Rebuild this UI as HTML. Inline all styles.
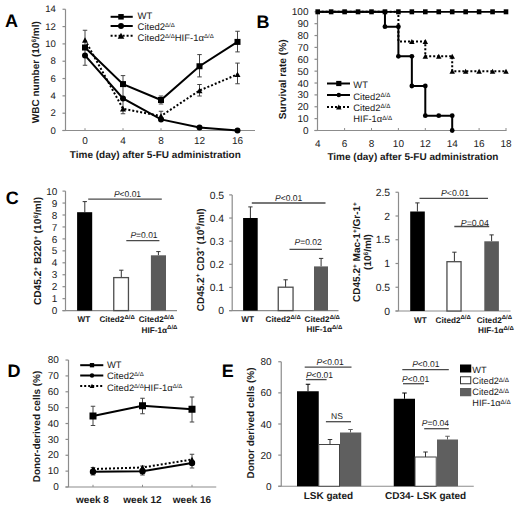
<!DOCTYPE html><html><head><meta charset="utf-8"><style>html,body{margin:0;padding:0;background:#fff;}svg{display:block;}text{font-family:"Liberation Sans",sans-serif;text-rendering:geometricPrecision;}</style></head><body>
<svg width="520" height="507" viewBox="0 0 520 507">
<rect width="520" height="507" fill="#fff"/>
<text x="5.0" y="26.6" font-size="18" text-anchor="start" font-weight="bold" fill="#000" >A</text>
<line x1="65.5" y1="9.259999999999991" x2="65.5" y2="130.5" stroke="#8c8c8c" stroke-width="1.2" />
<line x1="62.5" y1="130.5" x2="255" y2="130.5" stroke="#8c8c8c" stroke-width="1.2" />
<line x1="62.5" y1="130.5" x2="65.5" y2="130.5" stroke="#8c8c8c" stroke-width="1.2" />
<text x="55.8" y="133.6" font-size="9.6" text-anchor="end" fill="#1a1a1a" >0</text>
<line x1="62.5" y1="113.18" x2="65.5" y2="113.18" stroke="#8c8c8c" stroke-width="1.2" />
<text x="55.8" y="116.28" font-size="9.6" text-anchor="end" fill="#1a1a1a" >2</text>
<line x1="62.5" y1="95.86" x2="65.5" y2="95.86" stroke="#8c8c8c" stroke-width="1.2" />
<text x="55.8" y="98.96" font-size="9.6" text-anchor="end" fill="#1a1a1a" >4</text>
<line x1="62.5" y1="78.53999999999999" x2="65.5" y2="78.53999999999999" stroke="#8c8c8c" stroke-width="1.2" />
<text x="55.8" y="81.63999999999999" font-size="9.6" text-anchor="end" fill="#1a1a1a" >6</text>
<line x1="62.5" y1="61.22" x2="65.5" y2="61.22" stroke="#8c8c8c" stroke-width="1.2" />
<text x="55.8" y="64.32" font-size="9.6" text-anchor="end" fill="#1a1a1a" >8</text>
<line x1="62.5" y1="43.900000000000006" x2="65.5" y2="43.900000000000006" stroke="#8c8c8c" stroke-width="1.2" />
<text x="55.8" y="47.00000000000001" font-size="9.6" text-anchor="end" fill="#1a1a1a" >10</text>
<line x1="62.5" y1="26.58" x2="65.5" y2="26.58" stroke="#8c8c8c" stroke-width="1.2" />
<text x="55.8" y="29.68" font-size="9.6" text-anchor="end" fill="#1a1a1a" >12</text>
<line x1="62.5" y1="9.259999999999991" x2="65.5" y2="9.259999999999991" stroke="#8c8c8c" stroke-width="1.2" />
<text x="55.8" y="12.35999999999999" font-size="9.6" text-anchor="end" fill="#1a1a1a" >14</text>
<line x1="85" y1="128.2" x2="85" y2="130.5" stroke="#8c8c8c" stroke-width="1" />
<text x="85" y="143.6" font-size="10" text-anchor="middle" fill="#1a1a1a" >0</text>
<line x1="123" y1="128.2" x2="123" y2="130.5" stroke="#8c8c8c" stroke-width="1" />
<text x="123" y="143.6" font-size="10" text-anchor="middle" fill="#1a1a1a" >4</text>
<line x1="161" y1="128.2" x2="161" y2="130.5" stroke="#8c8c8c" stroke-width="1" />
<text x="161" y="143.6" font-size="10" text-anchor="middle" fill="#1a1a1a" >8</text>
<line x1="199.5" y1="128.2" x2="199.5" y2="130.5" stroke="#8c8c8c" stroke-width="1" />
<text x="199.5" y="143.6" font-size="10" text-anchor="middle" fill="#1a1a1a" >12</text>
<line x1="237.5" y1="128.2" x2="237.5" y2="130.5" stroke="#8c8c8c" stroke-width="1" />
<text x="237.5" y="143.6" font-size="10" text-anchor="middle" fill="#1a1a1a" >16</text>
<text x="155.3" y="158.2" font-size="10" text-anchor="middle" font-weight="bold" fill="#1a1a1a" >Time (day) after 5-FU administration</text>
<text x="36" y="72.2" font-size="10" font-weight="bold" text-anchor="middle" fill="#1a1a1a" transform="rotate(-90 36 72.2)" dy="3.5">WBC number (10<tspan font-size="6.5" dy="-3.5">6</tspan><tspan dy="3.5">/ml)</tspan></text>
<line x1="85" y1="30.25" x2="85" y2="65.25" stroke="#444" stroke-width="1" />
<line x1="82.75" y1="30.25" x2="87.25" y2="30.25" stroke="#444" stroke-width="1" />
<line x1="82.75" y1="65.25" x2="87.25" y2="65.25" stroke="#444" stroke-width="1" />
<line x1="123" y1="75.6" x2="123" y2="113.75" stroke="#444" stroke-width="1" />
<line x1="120.75" y1="75.6" x2="125.25" y2="75.6" stroke="#444" stroke-width="1" />
<line x1="120.75" y1="113.75" x2="125.25" y2="113.75" stroke="#444" stroke-width="1" />
<line x1="161" y1="96" x2="161" y2="104" stroke="#444" stroke-width="1" />
<line x1="158.75" y1="96" x2="163.25" y2="96" stroke="#444" stroke-width="1" />
<line x1="158.75" y1="104" x2="163.25" y2="104" stroke="#444" stroke-width="1" />
<line x1="161" y1="111.25" x2="161" y2="119" stroke="#444" stroke-width="1" />
<line x1="158.75" y1="111.25" x2="163.25" y2="111.25" stroke="#444" stroke-width="1" />
<line x1="158.75" y1="119" x2="163.25" y2="119" stroke="#444" stroke-width="1" />
<line x1="199.5" y1="54.6" x2="199.5" y2="76.9" stroke="#444" stroke-width="1" />
<line x1="197.25" y1="54.6" x2="201.75" y2="54.6" stroke="#444" stroke-width="1" />
<line x1="197.25" y1="76.9" x2="201.75" y2="76.9" stroke="#444" stroke-width="1" />
<line x1="199.5" y1="84.5" x2="199.5" y2="96" stroke="#444" stroke-width="1" />
<line x1="197.25" y1="84.5" x2="201.75" y2="84.5" stroke="#444" stroke-width="1" />
<line x1="197.25" y1="96" x2="201.75" y2="96" stroke="#444" stroke-width="1" />
<line x1="237.5" y1="31.25" x2="237.5" y2="51.9" stroke="#444" stroke-width="1" />
<line x1="235.25" y1="31.25" x2="239.75" y2="31.25" stroke="#444" stroke-width="1" />
<line x1="235.25" y1="51.9" x2="239.75" y2="51.9" stroke="#444" stroke-width="1" />
<line x1="237.5" y1="63.1" x2="237.5" y2="83.75" stroke="#444" stroke-width="1" />
<line x1="235.25" y1="63.1" x2="239.75" y2="63.1" stroke="#444" stroke-width="1" />
<line x1="235.25" y1="83.75" x2="239.75" y2="83.75" stroke="#444" stroke-width="1" />
<polyline points="85,40 123,108.75 161,116 199.5,90.5 237.5,74.4" fill="none" stroke="#000" stroke-width="2" stroke-dasharray="2 2" stroke-linejoin="miter"/>
<polyline points="85,47.5 123,84.1 161,100 199.5,66.25 237.5,41.9" fill="none" stroke="#000" stroke-width="2" stroke-linejoin="miter"/>
<polyline points="85,55.4 123,98.5 161,119.4 199.5,127.5 237.5,130.5" fill="none" stroke="#000" stroke-width="2" stroke-linejoin="miter"/>
<rect x="82.0" y="44.5" width="6" height="6" fill="#000" stroke="none" stroke-width="0"/>
<rect x="120.0" y="81.1" width="6" height="6" fill="#000" stroke="none" stroke-width="0"/>
<rect x="158.0" y="97.0" width="6" height="6" fill="#000" stroke="none" stroke-width="0"/>
<rect x="196.5" y="63.25" width="6" height="6" fill="#000" stroke="none" stroke-width="0"/>
<rect x="234.5" y="38.9" width="6" height="6" fill="#000" stroke="none" stroke-width="0"/>
<circle cx="85" cy="55.4" r="3" fill="#000"/>
<circle cx="123" cy="98.5" r="3" fill="#000"/>
<circle cx="161" cy="119.4" r="3" fill="#000"/>
<circle cx="199.5" cy="127.5" r="3" fill="#000"/>
<circle cx="237.5" cy="130.5" r="3" fill="#000"/>
<polygon points="85,37.3 88.0,42.7 82.0,42.7" fill="#000"/>
<polygon points="123,106.05 126.0,111.45 120.0,111.45" fill="#000"/>
<polygon points="161,113.3 164.0,118.7 158.0,118.7" fill="#000"/>
<polygon points="199.5,87.8 202.5,93.2 196.5,93.2" fill="#000"/>
<polygon points="237.5,71.7 240.5,77.10000000000001 234.5,77.10000000000001" fill="#000"/>
<line x1="110.6" y1="16.8" x2="132.75" y2="16.8" stroke="#000" stroke-width="2" />
<rect x="118.25" y="14.05" width="5.5" height="5.5" fill="#000" stroke="none" stroke-width="0"/>
<line x1="110.6" y1="26" x2="132.75" y2="26" stroke="#000" stroke-width="2" />
<circle cx="121" cy="26" r="3" fill="#000"/>
<line x1="110.6" y1="35.8" x2="132.75" y2="35.8" stroke="#000" stroke-width="2" stroke-dasharray="2 2"/>
<polygon points="121,32.83 124.3,38.769999999999996 117.7,38.769999999999996" fill="#000"/>
<text x="137.6" y="18.6" font-size="9.5" text-anchor="start" fill="#1a1a1a" >WT</text>
<text x="137.6" y="30" font-size="9.5" text-anchor="start" fill="#1a1a1a" >Cited2<tspan font-size="6" dy="-2.8">Δ/Δ</tspan></text>
<text x="137.6" y="40.5" font-size="9.5" text-anchor="start" fill="#1a1a1a" >Cited2<tspan font-size="6" dy="-2.8">Δ/Δ</tspan><tspan dy="2.8">HIF-1α</tspan><tspan font-size="6" dy="-2.8">Δ/Δ</tspan></text>
<text x="256.4" y="28.0" font-size="18" text-anchor="start" font-weight="bold" fill="#000" >B</text>
<line x1="317.5" y1="11.799999999999997" x2="317.5" y2="130.5" stroke="#8c8c8c" stroke-width="1.2" />
<line x1="314.5" y1="130.5" x2="506.5" y2="130.5" stroke="#8c8c8c" stroke-width="1.2" />
<line x1="314.5" y1="130.5" x2="317.5" y2="130.5" stroke="#8c8c8c" stroke-width="1.2" />
<text x="308.5" y="134.1" font-size="10" text-anchor="end" fill="#1a1a1a" >0</text>
<line x1="314.5" y1="118.63" x2="317.5" y2="118.63" stroke="#8c8c8c" stroke-width="1.2" />
<text x="308.5" y="122.22999999999999" font-size="10" text-anchor="end" fill="#1a1a1a" >10</text>
<line x1="314.5" y1="106.75999999999999" x2="317.5" y2="106.75999999999999" stroke="#8c8c8c" stroke-width="1.2" />
<text x="308.5" y="110.35999999999999" font-size="10" text-anchor="end" fill="#1a1a1a" >20</text>
<line x1="314.5" y1="94.89" x2="317.5" y2="94.89" stroke="#8c8c8c" stroke-width="1.2" />
<text x="308.5" y="98.49" font-size="10" text-anchor="end" fill="#1a1a1a" >30</text>
<line x1="314.5" y1="83.02" x2="317.5" y2="83.02" stroke="#8c8c8c" stroke-width="1.2" />
<text x="308.5" y="86.61999999999999" font-size="10" text-anchor="end" fill="#1a1a1a" >40</text>
<line x1="314.5" y1="71.15" x2="317.5" y2="71.15" stroke="#8c8c8c" stroke-width="1.2" />
<text x="308.5" y="74.75" font-size="10" text-anchor="end" fill="#1a1a1a" >50</text>
<line x1="314.5" y1="59.28" x2="317.5" y2="59.28" stroke="#8c8c8c" stroke-width="1.2" />
<text x="308.5" y="62.88" font-size="10" text-anchor="end" fill="#1a1a1a" >60</text>
<line x1="314.5" y1="47.41" x2="317.5" y2="47.41" stroke="#8c8c8c" stroke-width="1.2" />
<text x="308.5" y="51.01" font-size="10" text-anchor="end" fill="#1a1a1a" >70</text>
<line x1="314.5" y1="35.53999999999999" x2="317.5" y2="35.53999999999999" stroke="#8c8c8c" stroke-width="1.2" />
<text x="308.5" y="39.13999999999999" font-size="10" text-anchor="end" fill="#1a1a1a" >80</text>
<line x1="314.5" y1="23.67" x2="317.5" y2="23.67" stroke="#8c8c8c" stroke-width="1.2" />
<text x="308.5" y="27.270000000000003" font-size="10" text-anchor="end" fill="#1a1a1a" >90</text>
<line x1="314.5" y1="11.799999999999997" x2="317.5" y2="11.799999999999997" stroke="#8c8c8c" stroke-width="1.2" />
<text x="308.5" y="15.399999999999997" font-size="10" text-anchor="end" fill="#1a1a1a" >100</text>
<text x="317.7" y="146.6" font-size="10" text-anchor="middle" fill="#1a1a1a" >4</text>
<line x1="344.59999999999997" y1="128" x2="344.59999999999997" y2="130.5" stroke="#8c8c8c" stroke-width="1" />
<text x="344.59999999999997" y="146.6" font-size="10" text-anchor="middle" fill="#1a1a1a" >6</text>
<line x1="371.5" y1="128" x2="371.5" y2="130.5" stroke="#8c8c8c" stroke-width="1" />
<text x="371.5" y="146.6" font-size="10" text-anchor="middle" fill="#1a1a1a" >8</text>
<line x1="398.4" y1="128" x2="398.4" y2="130.5" stroke="#8c8c8c" stroke-width="1" />
<text x="398.4" y="146.6" font-size="10" text-anchor="middle" fill="#1a1a1a" >10</text>
<line x1="425.29999999999995" y1="128" x2="425.29999999999995" y2="130.5" stroke="#8c8c8c" stroke-width="1" />
<text x="425.29999999999995" y="146.6" font-size="10" text-anchor="middle" fill="#1a1a1a" >12</text>
<line x1="452.2" y1="128" x2="452.2" y2="130.5" stroke="#8c8c8c" stroke-width="1" />
<text x="452.2" y="146.6" font-size="10" text-anchor="middle" fill="#1a1a1a" >14</text>
<line x1="479.09999999999997" y1="128" x2="479.09999999999997" y2="130.5" stroke="#8c8c8c" stroke-width="1" />
<text x="479.09999999999997" y="146.6" font-size="10" text-anchor="middle" fill="#1a1a1a" >16</text>
<line x1="506.0" y1="128" x2="506.0" y2="130.5" stroke="#8c8c8c" stroke-width="1" />
<text x="506.0" y="146.6" font-size="10" text-anchor="middle" fill="#1a1a1a" >18</text>
<text x="412.9" y="159.8" font-size="10" text-anchor="middle" font-weight="bold" fill="#1a1a1a" >Time (day) after 5-FU administration</text>
<text x="283" y="79.3" font-size="10.2" font-weight="bold" text-anchor="middle" fill="#1a1a1a" transform="rotate(-90 283 79.3)" dy="3.5">Survival rate (%)</text>
<polyline points="317.7,11.799999999999997 398.4,11.799999999999997 398.4,41.474999999999994 425.29999999999995,41.474999999999994 425.29999999999995,56.3125 452.2,56.3125 452.2,71.15 506.0,71.15" fill="none" stroke="#000" stroke-width="2" stroke-dasharray="2 2" stroke-linejoin="miter"/>
<polyline points="317.7,11.799999999999997 384.95,11.799999999999997 384.95,26.63749999999999 398.4,26.63749999999999 398.4,56.3125 411.84999999999997,56.3125 411.84999999999997,85.9875 425.29999999999995,85.9875 425.29999999999995,115.6625 452.2,115.6625 452.2,130.5" fill="none" stroke="#000" stroke-width="2" stroke-linejoin="miter"/>
<polyline points="317.7,11.799999999999997 506.0,11.799999999999997" fill="none" stroke="#000" stroke-width="1.7" stroke-linejoin="miter"/>
<rect x="315.4" y="9.299999999999997" width="4.6" height="5" fill="#000" stroke="none" stroke-width="0"/>
<rect x="328.84999999999997" y="9.299999999999997" width="4.6" height="5" fill="#000" stroke="none" stroke-width="0"/>
<rect x="342.29999999999995" y="9.299999999999997" width="4.6" height="5" fill="#000" stroke="none" stroke-width="0"/>
<rect x="355.74999999999994" y="9.299999999999997" width="4.6" height="5" fill="#000" stroke="none" stroke-width="0"/>
<rect x="369.2" y="9.299999999999997" width="4.6" height="5" fill="#000" stroke="none" stroke-width="0"/>
<rect x="382.65" y="9.299999999999997" width="4.6" height="5" fill="#000" stroke="none" stroke-width="0"/>
<rect x="396.09999999999997" y="9.299999999999997" width="4.6" height="5" fill="#000" stroke="none" stroke-width="0"/>
<rect x="409.54999999999995" y="9.299999999999997" width="4.6" height="5" fill="#000" stroke="none" stroke-width="0"/>
<rect x="422.99999999999994" y="9.299999999999997" width="4.6" height="5" fill="#000" stroke="none" stroke-width="0"/>
<rect x="436.45" y="9.299999999999997" width="4.6" height="5" fill="#000" stroke="none" stroke-width="0"/>
<rect x="449.9" y="9.299999999999997" width="4.6" height="5" fill="#000" stroke="none" stroke-width="0"/>
<rect x="463.34999999999997" y="9.299999999999997" width="4.6" height="5" fill="#000" stroke="none" stroke-width="0"/>
<rect x="476.79999999999995" y="9.299999999999997" width="4.6" height="5" fill="#000" stroke="none" stroke-width="0"/>
<rect x="490.24999999999994" y="9.299999999999997" width="4.6" height="5" fill="#000" stroke="none" stroke-width="0"/>
<rect x="503.7" y="9.299999999999997" width="4.6" height="5" fill="#000" stroke="none" stroke-width="0"/>
<circle cx="384.95" cy="26.63749999999999" r="2.4" fill="#000"/>
<circle cx="398.4" cy="26.63749999999999" r="2.4" fill="#000"/>
<circle cx="398.4" cy="56.3125" r="2.4" fill="#000"/>
<circle cx="411.84999999999997" cy="56.3125" r="2.4" fill="#000"/>
<circle cx="411.84999999999997" cy="85.9875" r="2.4" fill="#000"/>
<circle cx="425.29999999999995" cy="85.9875" r="2.4" fill="#000"/>
<circle cx="425.29999999999995" cy="115.6625" r="2.4" fill="#000"/>
<circle cx="438.75" cy="115.6625" r="2.4" fill="#000"/>
<circle cx="452.2" cy="115.6625" r="2.4" fill="#000"/>
<circle cx="452.2" cy="130.5" r="2.4" fill="#000"/>
<polygon points="411.84999999999997,38.99999999999999 414.59999999999997,43.949999999999996 409.09999999999997,43.949999999999996" fill="#000"/>
<polygon points="425.29999999999995,38.99999999999999 428.04999999999995,43.949999999999996 422.54999999999995,43.949999999999996" fill="#000"/>
<polygon points="425.29999999999995,53.8375 428.04999999999995,58.7875 422.54999999999995,58.7875" fill="#000"/>
<polygon points="438.75,53.8375 441.5,58.7875 436.0,58.7875" fill="#000"/>
<polygon points="452.2,53.8375 454.95,58.7875 449.45,58.7875" fill="#000"/>
<polygon points="452.2,68.67500000000001 454.95,73.625 449.45,73.625" fill="#000"/>
<polygon points="465.65,68.67500000000001 468.4,73.625 462.9,73.625" fill="#000"/>
<polygon points="479.09999999999997,68.67500000000001 481.84999999999997,73.625 476.34999999999997,73.625" fill="#000"/>
<polygon points="492.54999999999995,68.67500000000001 495.29999999999995,73.625 489.79999999999995,73.625" fill="#000"/>
<polygon points="506.0,68.67500000000001 508.75,73.625 503.25,73.625" fill="#000"/>
<line x1="327" y1="83.5" x2="350" y2="83.5" stroke="#000" stroke-width="2" />
<rect x="336.2" y="80.9" width="5.2" height="5.2" fill="#000" stroke="none" stroke-width="0"/>
<line x1="327" y1="95" x2="350" y2="95" stroke="#000" stroke-width="2" />
<circle cx="338.8" cy="95" r="2.2" fill="#000"/>
<line x1="327" y1="107" x2="350" y2="107" stroke="#000" stroke-width="2" stroke-dasharray="2 2"/>
<polygon points="338.8,104.525 341.55,109.475 336.05,109.475" fill="#000"/>
<text x="353.3" y="88.3" font-size="9.4" text-anchor="start" fill="#1a1a1a" >WT</text>
<text x="353.3" y="99.5" font-size="9.4" text-anchor="start" fill="#1a1a1a" >Cited2<tspan font-size="6.2" dy="-2.6">Δ/Δ</tspan></text>
<text x="353.3" y="110.8" font-size="9.4" text-anchor="start" fill="#1a1a1a" >Cited2<tspan font-size="6.2" dy="-2.6">Δ/Δ</tspan></text>
<text x="353.3" y="122.3" font-size="9.4" text-anchor="start" fill="#1a1a1a" >HIF-1α<tspan font-size="6.2" dy="-2.6">Δ/Δ</tspan></text>
<text x="5.8" y="203.7" font-size="18" text-anchor="start" font-weight="bold" fill="#000" >C</text>
<line x1="65.5" y1="191.10000000000002" x2="65.5" y2="310.6" stroke="#8c8c8c" stroke-width="1.2" />
<line x1="62.5" y1="310.6" x2="177" y2="310.6" stroke="#8c8c8c" stroke-width="1.2" />
<line x1="62.5" y1="310.6" x2="65.5" y2="310.6" stroke="#8c8c8c" stroke-width="1.2" />
<text x="57.4" y="314.20000000000005" font-size="10" text-anchor="end" fill="#1a1a1a" >0</text>
<line x1="62.5" y1="298.65000000000003" x2="65.5" y2="298.65000000000003" stroke="#8c8c8c" stroke-width="1.2" />
<text x="57.4" y="302.25000000000006" font-size="10" text-anchor="end" fill="#1a1a1a" >1</text>
<line x1="62.5" y1="286.70000000000005" x2="65.5" y2="286.70000000000005" stroke="#8c8c8c" stroke-width="1.2" />
<text x="57.4" y="290.30000000000007" font-size="10" text-anchor="end" fill="#1a1a1a" >2</text>
<line x1="62.5" y1="274.75" x2="65.5" y2="274.75" stroke="#8c8c8c" stroke-width="1.2" />
<text x="57.4" y="278.35" font-size="10" text-anchor="end" fill="#1a1a1a" >3</text>
<line x1="62.5" y1="262.8" x2="65.5" y2="262.8" stroke="#8c8c8c" stroke-width="1.2" />
<text x="57.4" y="266.40000000000003" font-size="10" text-anchor="end" fill="#1a1a1a" >4</text>
<line x1="62.5" y1="250.85000000000002" x2="65.5" y2="250.85000000000002" stroke="#8c8c8c" stroke-width="1.2" />
<text x="57.4" y="254.45000000000002" font-size="10" text-anchor="end" fill="#1a1a1a" >5</text>
<line x1="62.5" y1="238.90000000000003" x2="65.5" y2="238.90000000000003" stroke="#8c8c8c" stroke-width="1.2" />
<text x="57.4" y="242.50000000000003" font-size="10" text-anchor="end" fill="#1a1a1a" >6</text>
<line x1="62.5" y1="226.95000000000005" x2="65.5" y2="226.95000000000005" stroke="#8c8c8c" stroke-width="1.2" />
<text x="57.4" y="230.55000000000004" font-size="10" text-anchor="end" fill="#1a1a1a" >7</text>
<line x1="62.5" y1="215.00000000000003" x2="65.5" y2="215.00000000000003" stroke="#8c8c8c" stroke-width="1.2" />
<text x="57.4" y="218.60000000000002" font-size="10" text-anchor="end" fill="#1a1a1a" >8</text>
<line x1="62.5" y1="203.05" x2="65.5" y2="203.05" stroke="#8c8c8c" stroke-width="1.2" />
<text x="57.4" y="206.65" font-size="10" text-anchor="end" fill="#1a1a1a" >9</text>
<line x1="62.5" y1="191.10000000000002" x2="65.5" y2="191.10000000000002" stroke="#8c8c8c" stroke-width="1.2" />
<text x="57.4" y="194.70000000000002" font-size="10" text-anchor="end" fill="#1a1a1a" >10</text>
<line x1="84.8" y1="201.6" x2="84.8" y2="212.2" stroke="#333" stroke-width="1" />
<line x1="82.64999999999999" y1="201.6" x2="86.95" y2="201.6" stroke="#333" stroke-width="1" />
<rect x="77.1" y="212.2" width="15.100000000000009" height="98.40000000000003" fill="#000" stroke="none" stroke-width="0"/>
<line x1="121.3" y1="270.2" x2="121.3" y2="277.6" stroke="#333" stroke-width="1" />
<line x1="119.14999999999999" y1="270.2" x2="123.45" y2="270.2" stroke="#333" stroke-width="1" />
<rect x="113.75" y="277.6" width="14.7" height="33.0" fill="#fff" stroke="#4d4d4d" stroke-width="1.3"/>
<line x1="158.4" y1="251.6" x2="158.4" y2="255.3" stroke="#333" stroke-width="1" />
<line x1="156.25" y1="251.6" x2="160.55" y2="251.6" stroke="#333" stroke-width="1" />
<rect x="150.9" y="255.3" width="15.099999999999994" height="55.30000000000001" fill="#5a5a5a" stroke="none" stroke-width="0"/>
<line x1="88.2" y1="199.2" x2="161.8" y2="199.2" stroke="#4a4a4a" stroke-width="1.3" />
<text x="113.91" y="196.8" font-size="8.5" fill="#1a1a1a"><tspan font-style="italic">P</tspan>&lt;0.01</text>
<line x1="126.3" y1="240.6" x2="159.4" y2="240.6" stroke="#4a4a4a" stroke-width="1.3" />
<text x="130.41" y="238" font-size="8.5" fill="#1a1a1a"><tspan font-style="italic">P</tspan>=0.01</text>
<text x="37.6" y="251" font-size="10.15" font-weight="bold" text-anchor="middle" fill="#1a1a1a" transform="rotate(-90 37.6 251)" dy="3.5">CD45.2<tspan font-size="6.5" dy="-3.5">+</tspan><tspan dy="3.5"> B220</tspan><tspan font-size="6.5" dy="-3.5">+</tspan><tspan dy="3.5"> (10</tspan><tspan font-size="6.5" dy="-3.5">6</tspan><tspan dy="3.5">/ml)</tspan></text>
<text x="77.6" y="322.3" font-size="8.2" text-anchor="start" font-weight="bold" fill="#1a1a1a" >WT</text>
<text x="99.39999999999999" y="322.3" font-size="8.2" text-anchor="start" font-weight="bold" fill="#1a1a1a" >Cited2<tspan font-size="6" dy="-3.2">Δ/Δ</tspan></text>
<text x="138.7" y="322.3" font-size="8.2" text-anchor="start" font-weight="bold" fill="#1a1a1a" >Cited2<tspan font-size="6" dy="-3.2">Δ/Δ</tspan></text>
<text x="141.6" y="332.5" font-size="8.2" text-anchor="start" font-weight="bold" fill="#1a1a1a" >HIF-1α<tspan font-size="6" dy="-3.2">Δ/Δ</tspan></text>
<line x1="232.2" y1="194.90000000000003" x2="232.2" y2="310.6" stroke="#8c8c8c" stroke-width="1.2" />
<line x1="229.2" y1="310.6" x2="338.5" y2="310.6" stroke="#8c8c8c" stroke-width="1.2" />
<line x1="229.2" y1="310.6" x2="232.2" y2="310.6" stroke="#8c8c8c" stroke-width="1.2" />
<text x="224.1" y="314.34400000000005" font-size="10.4" text-anchor="end" fill="#1a1a1a" >0</text>
<line x1="229.2" y1="287.46000000000004" x2="232.2" y2="287.46000000000004" stroke="#8c8c8c" stroke-width="1.2" />
<text x="224.1" y="291.20400000000006" font-size="10.4" text-anchor="end" fill="#1a1a1a" >0.1</text>
<line x1="229.2" y1="264.32000000000005" x2="232.2" y2="264.32000000000005" stroke="#8c8c8c" stroke-width="1.2" />
<text x="224.1" y="268.0640000000001" font-size="10.4" text-anchor="end" fill="#1a1a1a" >0.2</text>
<line x1="229.2" y1="241.18" x2="232.2" y2="241.18" stroke="#8c8c8c" stroke-width="1.2" />
<text x="224.1" y="244.924" font-size="10.4" text-anchor="end" fill="#1a1a1a" >0.3</text>
<line x1="229.2" y1="218.04000000000002" x2="232.2" y2="218.04000000000002" stroke="#8c8c8c" stroke-width="1.2" />
<text x="224.1" y="221.78400000000002" font-size="10.4" text-anchor="end" fill="#1a1a1a" >0.4</text>
<line x1="229.2" y1="194.90000000000003" x2="232.2" y2="194.90000000000003" stroke="#8c8c8c" stroke-width="1.2" />
<text x="224.1" y="198.64400000000003" font-size="10.4" text-anchor="end" fill="#1a1a1a" >0.5</text>
<line x1="250.4" y1="206.9" x2="250.4" y2="218" stroke="#333" stroke-width="1" />
<line x1="248.25" y1="206.9" x2="252.55" y2="206.9" stroke="#333" stroke-width="1" />
<rect x="243.1" y="218" width="14.599999999999994" height="92.60000000000002" fill="#000" stroke="none" stroke-width="0"/>
<line x1="285.6" y1="279.8" x2="285.6" y2="287.2" stroke="#333" stroke-width="1" />
<line x1="283.45000000000005" y1="279.8" x2="287.75" y2="279.8" stroke="#333" stroke-width="1" />
<rect x="278.25" y="287.2" width="14.799999999999965" height="23.400000000000034" fill="#fff" stroke="#4d4d4d" stroke-width="1.3"/>
<line x1="321.1" y1="258.4" x2="321.1" y2="266.4" stroke="#333" stroke-width="1" />
<line x1="318.95000000000005" y1="258.4" x2="323.25" y2="258.4" stroke="#333" stroke-width="1" />
<rect x="314.0" y="266.4" width="14.0" height="44.200000000000045" fill="#5a5a5a" stroke="none" stroke-width="0"/>
<line x1="251.8" y1="203" x2="325.5" y2="203" stroke="#4a4a4a" stroke-width="1.3" />
<text x="275.10" y="200.6" font-size="8.5" fill="#1a1a1a"><tspan font-style="italic">P</tspan>&lt;0.01</text>
<line x1="289.5" y1="249.3" x2="321.9" y2="249.3" stroke="#4a4a4a" stroke-width="1.3" />
<text x="294.50" y="245" font-size="8.5" fill="#1a1a1a"><tspan font-style="italic">P</tspan>=0.02</text>
<text x="200.5" y="259.8" font-size="10" font-weight="bold" text-anchor="middle" fill="#1a1a1a" transform="rotate(-90 200.5 259.8)" dy="3.5">CD45.2<tspan font-size="6.5" dy="-3.5">+</tspan><tspan dy="3.5"> CD3</tspan><tspan font-size="6.5" dy="-3.5">+</tspan><tspan dy="3.5"> (10</tspan><tspan font-size="6.5" dy="-3.5">6</tspan><tspan dy="3.5">/ml)</tspan></text>
<text x="241.3" y="321.7" font-size="8.2" text-anchor="start" font-weight="bold" fill="#1a1a1a" >WT</text>
<text x="265.5" y="321.7" font-size="8.2" text-anchor="start" font-weight="bold" fill="#1a1a1a" >Cited2<tspan font-size="6" dy="-3.2">Δ/Δ</tspan></text>
<text x="304.6" y="321.7" font-size="8.2" text-anchor="start" font-weight="bold" fill="#1a1a1a" >Cited2<tspan font-size="6" dy="-3.2">Δ/Δ</tspan></text>
<text x="306.5" y="332.1" font-size="8.2" text-anchor="start" font-weight="bold" fill="#1a1a1a" >HIF-1α<tspan font-size="6" dy="-3.2">Δ/Δ</tspan></text>
<line x1="398.5" y1="192.25" x2="398.5" y2="311.0" stroke="#8c8c8c" stroke-width="1.2" />
<line x1="395.5" y1="311.0" x2="510.5" y2="311.0" stroke="#8c8c8c" stroke-width="1.2" />
<line x1="395.5" y1="311.0" x2="398.5" y2="311.0" stroke="#8c8c8c" stroke-width="1.2" />
<text x="390.09999999999997" y="314.744" font-size="10.4" text-anchor="end" fill="#1a1a1a" >0</text>
<line x1="395.5" y1="287.25" x2="398.5" y2="287.25" stroke="#8c8c8c" stroke-width="1.2" />
<text x="390.09999999999997" y="290.994" font-size="10.4" text-anchor="end" fill="#1a1a1a" >0.5</text>
<line x1="395.5" y1="263.5" x2="398.5" y2="263.5" stroke="#8c8c8c" stroke-width="1.2" />
<text x="390.09999999999997" y="267.244" font-size="10.4" text-anchor="end" fill="#1a1a1a" >1</text>
<line x1="395.5" y1="239.75" x2="398.5" y2="239.75" stroke="#8c8c8c" stroke-width="1.2" />
<text x="390.09999999999997" y="243.494" font-size="10.4" text-anchor="end" fill="#1a1a1a" >1.5</text>
<line x1="395.5" y1="216.0" x2="398.5" y2="216.0" stroke="#8c8c8c" stroke-width="1.2" />
<text x="390.09999999999997" y="219.744" font-size="10.4" text-anchor="end" fill="#1a1a1a" >2</text>
<line x1="395.5" y1="192.25" x2="398.5" y2="192.25" stroke="#8c8c8c" stroke-width="1.2" />
<text x="390.09999999999997" y="195.994" font-size="10.4" text-anchor="end" fill="#1a1a1a" >2.5</text>
<line x1="417.4" y1="202.9" x2="417.4" y2="211.5" stroke="#333" stroke-width="1" />
<line x1="415.25" y1="202.9" x2="419.54999999999995" y2="202.9" stroke="#333" stroke-width="1" />
<rect x="410.2" y="211.5" width="14.600000000000023" height="99.5" fill="#000" stroke="none" stroke-width="0"/>
<line x1="454.4" y1="252.2" x2="454.4" y2="261.7" stroke="#333" stroke-width="1" />
<line x1="452.25" y1="252.2" x2="456.54999999999995" y2="252.2" stroke="#333" stroke-width="1" />
<rect x="446.95" y="261.7" width="14.099999999999977" height="49.30000000000001" fill="#fff" stroke="#4d4d4d" stroke-width="1.3"/>
<line x1="491.6" y1="234.9" x2="491.6" y2="241.3" stroke="#333" stroke-width="1" />
<line x1="489.45000000000005" y1="234.9" x2="493.75" y2="234.9" stroke="#333" stroke-width="1" />
<rect x="484.3" y="241.3" width="14.599999999999966" height="69.69999999999999" fill="#5a5a5a" stroke="none" stroke-width="0"/>
<line x1="419.5" y1="198.3" x2="488" y2="198.3" stroke="#4a4a4a" stroke-width="1.3" />
<text x="440.98" y="196" font-size="8.8" fill="#1a1a1a"><tspan font-style="italic">P</tspan>&lt;0.01</text>
<line x1="454.3" y1="226.5" x2="489.2" y2="226.5" stroke="#4a4a4a" stroke-width="1.3" />
<text x="460.78" y="226" font-size="8.8" fill="#1a1a1a"><tspan font-style="italic">P</tspan>=0.04</text>
<text x="356.5" y="252" font-size="10" font-weight="bold" text-anchor="middle" fill="#1a1a1a" transform="rotate(-90 356.5 252)" dy="3.5">CD45.2<tspan font-size="6.5" dy="-3.5">+</tspan><tspan dy="3.5"> Mac-1</tspan><tspan font-size="6.5" dy="-3.5">+</tspan><tspan dy="3.5">/Gr-1</tspan><tspan font-size="6.5" dy="-3.5">+</tspan></text>
<text x="367.6" y="252" font-size="10" font-weight="bold" text-anchor="middle" fill="#1a1a1a" transform="rotate(-90 367.6 252)" dy="3.5">(10<tspan font-size="6.5" dy="-3.5">6</tspan><tspan dy="3.5">/ml)</tspan></text>
<text x="414.0" y="322.5" font-size="8.2" text-anchor="start" font-weight="bold" fill="#1a1a1a" >WT</text>
<text x="435.5" y="322.5" font-size="8.2" text-anchor="start" font-weight="bold" fill="#1a1a1a" >Cited2<tspan font-size="6" dy="-3.2">Δ/Δ</tspan></text>
<text x="476.70000000000005" y="322.5" font-size="8.2" text-anchor="start" font-weight="bold" fill="#1a1a1a" >Cited2<tspan font-size="6" dy="-3.2">Δ/Δ</tspan></text>
<text x="478.0" y="332.7" font-size="8.2" text-anchor="start" font-weight="bold" fill="#1a1a1a" >HIF-1α<tspan font-size="6" dy="-3.2">Δ/Δ</tspan></text>
<text x="7.5" y="376.6" font-size="18" text-anchor="start" font-weight="bold" fill="#000" >D</text>
<line x1="68.5" y1="360.04" x2="68.5" y2="487.0" stroke="#8c8c8c" stroke-width="1.2" />
<line x1="65.5" y1="487.0" x2="216.25" y2="487.0" stroke="#8c8c8c" stroke-width="1.2" />
<line x1="65.5" y1="487.0" x2="68.5" y2="487.0" stroke="#8c8c8c" stroke-width="1.2" />
<text x="58.8" y="490.2" font-size="10" text-anchor="end" fill="#1a1a1a" >0</text>
<line x1="65.5" y1="471.13" x2="68.5" y2="471.13" stroke="#8c8c8c" stroke-width="1.2" />
<text x="58.8" y="474.33" font-size="10" text-anchor="end" fill="#1a1a1a" >10</text>
<line x1="65.5" y1="455.26" x2="68.5" y2="455.26" stroke="#8c8c8c" stroke-width="1.2" />
<text x="58.8" y="458.46" font-size="10" text-anchor="end" fill="#1a1a1a" >20</text>
<line x1="65.5" y1="439.39" x2="68.5" y2="439.39" stroke="#8c8c8c" stroke-width="1.2" />
<text x="58.8" y="442.59" font-size="10" text-anchor="end" fill="#1a1a1a" >30</text>
<line x1="65.5" y1="423.52" x2="68.5" y2="423.52" stroke="#8c8c8c" stroke-width="1.2" />
<text x="58.8" y="426.71999999999997" font-size="10" text-anchor="end" fill="#1a1a1a" >40</text>
<line x1="65.5" y1="407.65" x2="68.5" y2="407.65" stroke="#8c8c8c" stroke-width="1.2" />
<text x="58.8" y="410.84999999999997" font-size="10" text-anchor="end" fill="#1a1a1a" >50</text>
<line x1="65.5" y1="391.78" x2="68.5" y2="391.78" stroke="#8c8c8c" stroke-width="1.2" />
<text x="58.8" y="394.97999999999996" font-size="10" text-anchor="end" fill="#1a1a1a" >60</text>
<line x1="65.5" y1="375.90999999999997" x2="68.5" y2="375.90999999999997" stroke="#8c8c8c" stroke-width="1.2" />
<text x="58.8" y="379.10999999999996" font-size="10" text-anchor="end" fill="#1a1a1a" >70</text>
<line x1="65.5" y1="360.04" x2="68.5" y2="360.04" stroke="#8c8c8c" stroke-width="1.2" />
<text x="58.8" y="363.24" font-size="10" text-anchor="end" fill="#1a1a1a" >80</text>
<line x1="93" y1="487" x2="93" y2="484.8" stroke="#8c8c8c" stroke-width="1" />
<line x1="142.5" y1="487" x2="142.5" y2="484.8" stroke="#8c8c8c" stroke-width="1" />
<line x1="192" y1="487" x2="192" y2="484.8" stroke="#8c8c8c" stroke-width="1" />
<text x="92.5" y="503.1" font-size="10" text-anchor="middle" font-weight="bold" fill="#1a1a1a" >week 8</text>
<text x="142.5" y="503.1" font-size="10" text-anchor="middle" font-weight="bold" fill="#1a1a1a" >week 12</text>
<text x="192" y="503.1" font-size="10" text-anchor="middle" font-weight="bold" fill="#1a1a1a" >week 16</text>
<text x="36.25" y="426.5" font-size="10" font-weight="bold" text-anchor="middle" fill="#1a1a1a" transform="rotate(-90 36.25 426.5)" dy="3.5">Donor-derived cells (%)</text>
<line x1="93" y1="406.25" x2="93" y2="425.5" stroke="#444" stroke-width="1" />
<line x1="90.75" y1="406.25" x2="95.25" y2="406.25" stroke="#444" stroke-width="1" />
<line x1="90.75" y1="425.5" x2="95.25" y2="425.5" stroke="#444" stroke-width="1" />
<line x1="142.5" y1="398.25" x2="142.5" y2="413.75" stroke="#444" stroke-width="1" />
<line x1="140.25" y1="398.25" x2="144.75" y2="398.25" stroke="#444" stroke-width="1" />
<line x1="140.25" y1="413.75" x2="144.75" y2="413.75" stroke="#444" stroke-width="1" />
<line x1="192" y1="397" x2="192" y2="422" stroke="#444" stroke-width="1" />
<line x1="189.75" y1="397" x2="194.25" y2="397" stroke="#444" stroke-width="1" />
<line x1="189.75" y1="422" x2="194.25" y2="422" stroke="#444" stroke-width="1" />
<line x1="93" y1="467.5" x2="93" y2="475" stroke="#444" stroke-width="1" />
<line x1="90.75" y1="467.5" x2="95.25" y2="467.5" stroke="#444" stroke-width="1" />
<line x1="90.75" y1="475" x2="95.25" y2="475" stroke="#444" stroke-width="1" />
<line x1="142.5" y1="466" x2="142.5" y2="475" stroke="#444" stroke-width="1" />
<line x1="140.25" y1="466" x2="144.75" y2="466" stroke="#444" stroke-width="1" />
<line x1="140.25" y1="475" x2="144.75" y2="475" stroke="#444" stroke-width="1" />
<line x1="192" y1="454.25" x2="192" y2="468" stroke="#444" stroke-width="1" />
<line x1="189.75" y1="454.25" x2="194.25" y2="454.25" stroke="#444" stroke-width="1" />
<line x1="189.75" y1="468" x2="194.25" y2="468" stroke="#444" stroke-width="1" />
<polyline points="93,469 142.5,467.5 192,459.5" fill="none" stroke="#000" stroke-width="2" stroke-dasharray="2 2" stroke-linejoin="miter"/>
<polyline points="93,416 142.5,405.75 192,409.25" fill="none" stroke="#000" stroke-width="2" stroke-linejoin="miter"/>
<polyline points="93,471.75 142.5,471.25 192,463" fill="none" stroke="#000" stroke-width="2" stroke-linejoin="miter"/>
<rect x="89.5" y="412.5" width="7" height="7" fill="#000" stroke="none" stroke-width="0"/>
<rect x="139.0" y="402.25" width="7" height="7" fill="#000" stroke="none" stroke-width="0"/>
<rect x="188.5" y="405.75" width="7" height="7" fill="#000" stroke="none" stroke-width="0"/>
<circle cx="93" cy="471.75" r="3.2" fill="#000"/>
<circle cx="142.5" cy="471.25" r="3.2" fill="#000"/>
<circle cx="192" cy="463" r="3.2" fill="#000"/>
<polygon points="93,466.3 96.0,471.7 90.0,471.7" fill="#000"/>
<polygon points="142.5,464.8 145.5,470.2 139.5,470.2" fill="#000"/>
<polygon points="192,456.8 195.0,462.2 189.0,462.2" fill="#000"/>
<line x1="80.2" y1="365.2" x2="103.3" y2="365.2" stroke="#000" stroke-width="2" />
<rect x="89.85" y="363.05" width="4.3" height="4.3" fill="#000" stroke="none" stroke-width="0"/>
<line x1="80.2" y1="375.5" x2="103.3" y2="375.5" stroke="#000" stroke-width="2" />
<circle cx="92" cy="375.5" r="2.2" fill="#000"/>
<line x1="80.2" y1="385.9" x2="103.3" y2="385.9" stroke="#000" stroke-width="2" stroke-dasharray="2 2"/>
<polygon points="92,383.73999999999995 94.4,388.06 89.6,388.06" fill="#000"/>
<text x="107.0" y="367.6" font-size="9.4" text-anchor="start" fill="#1a1a1a" >WT</text>
<text x="107.0" y="379.1" font-size="9.4" text-anchor="start" fill="#1a1a1a" >Cited2<tspan font-size="6" dy="-2.8">Δ/Δ</tspan></text>
<text x="107.0" y="390.6" font-size="9.4" text-anchor="start" fill="#1a1a1a" >Cited2<tspan font-size="6" dy="-2.8">Δ/Δ</tspan><tspan dy="2.8">HIF-1α</tspan><tspan font-size="6" dy="-2.8">Δ/Δ</tspan></text>
<text x="221.8" y="377.1" font-size="18" text-anchor="start" font-weight="bold" fill="#000" >E</text>
<line x1="281.25" y1="361.746" x2="281.25" y2="486.25" stroke="#8c8c8c" stroke-width="1.2" />
<line x1="278.25" y1="486.25" x2="473.75" y2="486.25" stroke="#8c8c8c" stroke-width="1.2" />
<line x1="278.25" y1="486.25" x2="281.25" y2="486.25" stroke="#8c8c8c" stroke-width="1.2" />
<text x="271.5" y="489.85" font-size="10" text-anchor="end" fill="#1a1a1a" >0</text>
<line x1="278.25" y1="455.124" x2="281.25" y2="455.124" stroke="#8c8c8c" stroke-width="1.2" />
<text x="271.5" y="458.72400000000005" font-size="10" text-anchor="end" fill="#1a1a1a" >20</text>
<line x1="278.25" y1="423.998" x2="281.25" y2="423.998" stroke="#8c8c8c" stroke-width="1.2" />
<text x="271.5" y="427.598" font-size="10" text-anchor="end" fill="#1a1a1a" >40</text>
<line x1="278.25" y1="392.872" x2="281.25" y2="392.872" stroke="#8c8c8c" stroke-width="1.2" />
<text x="271.5" y="396.47200000000004" font-size="10" text-anchor="end" fill="#1a1a1a" >60</text>
<line x1="278.25" y1="361.746" x2="281.25" y2="361.746" stroke="#8c8c8c" stroke-width="1.2" />
<text x="271.5" y="365.346" font-size="10" text-anchor="end" fill="#1a1a1a" >80</text>
<rect x="297" y="391.25" width="21.75" height="95.0" fill="#000" stroke="none" stroke-width="0"/>
<line x1="308" y1="384.25" x2="308" y2="391.25" stroke="#000" stroke-width="1" />
<line x1="305.75" y1="384.25" x2="310.25" y2="384.25" stroke="#000" stroke-width="1" />
<rect x="318.75" y="444.5" width="20.75" height="41.75" fill="#fff" stroke="#444" stroke-width="1"/>
<line x1="330" y1="439.5" x2="330" y2="444.5" stroke="#333" stroke-width="1" />
<line x1="327.75" y1="439.5" x2="332.25" y2="439.5" stroke="#333" stroke-width="1" />
<rect x="340" y="432.5" width="21.25" height="53.75" fill="#5f5f5f" stroke="none" stroke-width="0"/>
<line x1="350.5" y1="429.5" x2="350.5" y2="432.5" stroke="#5f5f5f" stroke-width="1" />
<line x1="348.25" y1="429.5" x2="352.75" y2="429.5" stroke="#5f5f5f" stroke-width="1" />
<rect x="393.75" y="398.75" width="21.25" height="87.5" fill="#000" stroke="none" stroke-width="0"/>
<line x1="404.5" y1="393" x2="404.5" y2="398.75" stroke="#000" stroke-width="1" />
<line x1="402.25" y1="393" x2="406.75" y2="393" stroke="#000" stroke-width="1" />
<rect x="415" y="457" width="21.25" height="29.25" fill="#fff" stroke="#444" stroke-width="1"/>
<line x1="425.5" y1="452" x2="425.5" y2="457" stroke="#333" stroke-width="1" />
<line x1="423.25" y1="452" x2="427.75" y2="452" stroke="#333" stroke-width="1" />
<rect x="437" y="439.5" width="21" height="46.75" fill="#5f5f5f" stroke="none" stroke-width="0"/>
<line x1="447.5" y1="436.25" x2="447.5" y2="439.5" stroke="#5f5f5f" stroke-width="1" />
<line x1="445.25" y1="436.25" x2="449.75" y2="436.25" stroke="#5f5f5f" stroke-width="1" />
<line x1="304.7" y1="367.1" x2="351.5" y2="367.1" stroke="#4a4a4a" stroke-width="1.3" />
<text x="316.60" y="364.8" font-size="8.5" fill="#1a1a1a"><tspan font-style="italic">P</tspan>&lt;0.01</text>
<line x1="305.9" y1="379.6" x2="326.6" y2="379.6" stroke="#4a4a4a" stroke-width="1.3" />
<text x="305.90" y="378.3" font-size="8.5" fill="#1a1a1a"><tspan font-style="italic">P</tspan>&lt;0.01</text>
<line x1="325.9" y1="421.7" x2="351" y2="421.7" stroke="#4a4a4a" stroke-width="1.3" />
<text x="331.0" y="418.9" font-size="8.5" text-anchor="start" fill="#1a1a1a" >NS</text>
<line x1="402.3" y1="369.7" x2="448.8" y2="369.7" stroke="#4a4a4a" stroke-width="1.3" />
<text x="412.20" y="366.8" font-size="8.5" fill="#1a1a1a"><tspan font-style="italic">P</tspan>&lt;0.01</text>
<line x1="403" y1="383.7" x2="424" y2="383.7" stroke="#4a4a4a" stroke-width="1.3" />
<text x="402.10" y="381.6" font-size="8.5" fill="#1a1a1a"><tspan font-style="italic">P</tspan>&lt;0.01</text>
<line x1="424.2" y1="428.7" x2="448.8" y2="428.7" stroke="#4a4a4a" stroke-width="1.3" />
<text x="421.80" y="426" font-size="8.5" fill="#1a1a1a"><tspan font-style="italic">P</tspan>=0.04</text>
<text x="328.4" y="499.35" font-size="10" text-anchor="middle" font-weight="bold" fill="#1a1a1a" >LSK gated</text>
<text x="425.6" y="499.35" font-size="10" text-anchor="middle" font-weight="bold" fill="#1a1a1a" >CD34- LSK gated</text>
<text x="250" y="423" font-size="10" font-weight="bold" text-anchor="middle" fill="#1a1a1a" transform="rotate(-90 250 423)" dy="3.5">Donor derived cells (%)</text>
<rect x="460" y="364.5" width="11.25" height="8" fill="#000" stroke="none" stroke-width="0"/>
<rect x="460.5" y="376.75" width="10.25" height="7" fill="#fff" stroke="#333" stroke-width="1"/>
<rect x="460" y="388" width="11.25" height="8.25" fill="#5f5f5f" stroke="none" stroke-width="0"/>
<text x="472.3" y="372.6" font-size="9.2" text-anchor="start" fill="#1a1a1a" >WT</text>
<text x="472.3" y="384.2" font-size="9.2" text-anchor="start" fill="#1a1a1a" >Cited2<tspan font-size="6.3" dy="-2.5">Δ/Δ</tspan></text>
<text x="472.3" y="395.4" font-size="9.2" text-anchor="start" fill="#1a1a1a" >Cited2<tspan font-size="6.3" dy="-2.5">Δ/Δ</tspan></text>
<text x="472.3" y="406.2" font-size="9.2" text-anchor="start" fill="#1a1a1a" >HIF-1α<tspan font-size="6.3" dy="-2.5">Δ/Δ</tspan></text>
</svg></body></html>
